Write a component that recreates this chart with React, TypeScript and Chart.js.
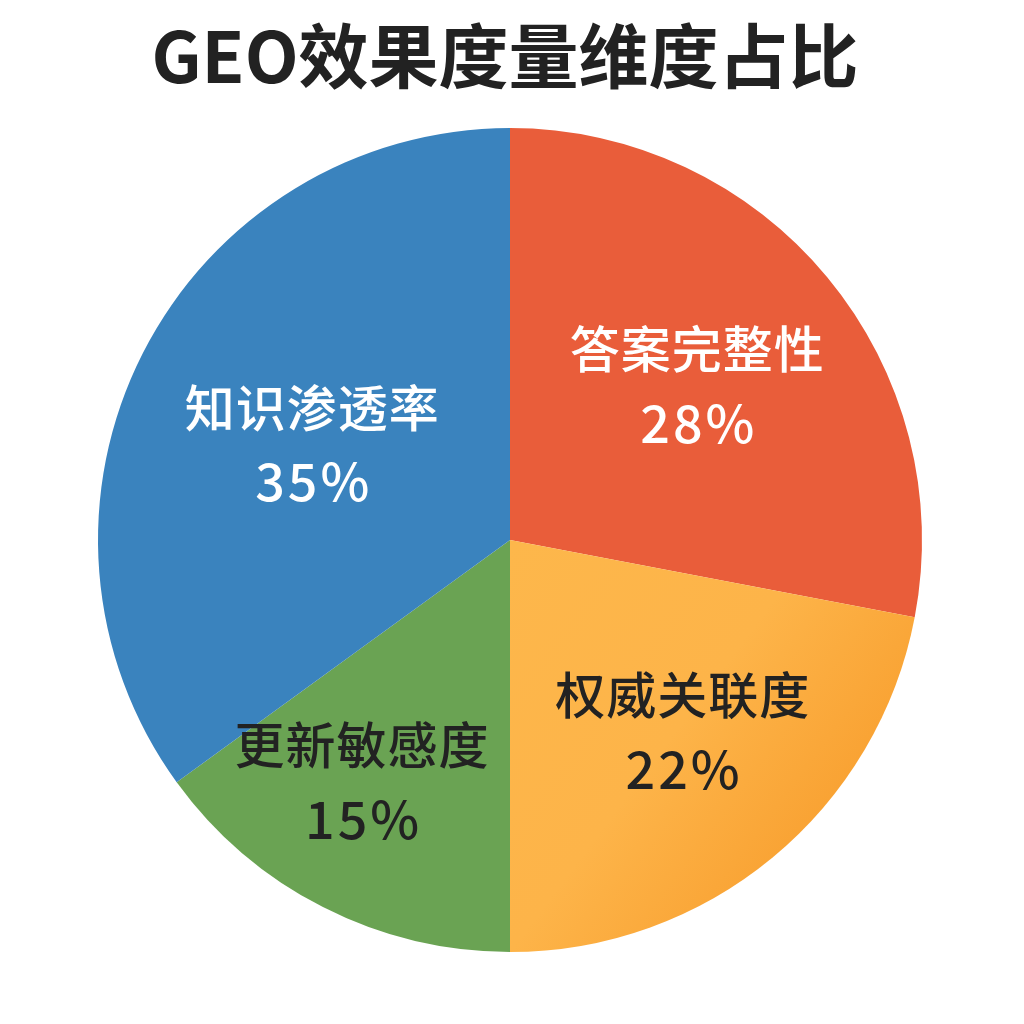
import React, { useEffect, useRef } from "react";
import { Chart, registerables } from "chart.js";

Chart.register(...registerables);

const TITLE = "GEO效果度量维度占比";
const categories = ["答案完整性", "权威关联度", "更新敏感度", "知识渗透率"];
const values = [28, 22, 15, 35];
const sliceColors = ["#E95D3A", "#FDB54A", "#6AA353", "#3A83BE"];
const labelColors = ["#FFFFFF", "#222222", "#222222", "#FFFFFF"];
const labelRadius = [0.59, 0.625, 0.687, 0.534];
const labelAngleShift = [0, -2.5, 4.5, -1];

const FONT = '"Noto Sans CJK SC", "Noto Sans", sans-serif';

const labelPlugin = {
  id: "sliceLabels",
  afterDatasetsDraw(chart: any) {
    const ctx = chart.ctx;
    const meta = chart.getDatasetMeta(0);
    const total = values.reduce((a, b) => a + b, 0);
    meta.data.forEach((arc: any, i: number) => {
      const p = arc.getProps(["x", "y", "startAngle", "endAngle", "outerRadius"], true);
      const mid = (p.startAngle + p.endAngle) / 2 + (labelAngleShift[i] * Math.PI) / 180;
      const r = p.outerRadius * labelRadius[i];
      const cx = p.x + Math.cos(mid) * r;
      const cy = p.y + Math.sin(mid) * r;
      ctx.save();
      ctx.fillStyle = labelColors[i];
      ctx.textAlign = "center";
      ctx.textBaseline = "middle";
      ctx.font = `500 50px ${FONT}`;
      (ctx as any).letterSpacing = "1px";
      ctx.fillText(categories[i], cx, cy - 36);
      ctx.font = `500 52px ${FONT}`;
      (ctx as any).letterSpacing = "3px";
      const pct = Math.round((values[i] / total) * 100) + "%";
      ctx.fillText(pct, cx + 1.5, cy + 38);
      ctx.restore();
    });
  },
};

const titlePlugin = {
  id: "bigTitle",
  afterDraw(chart: any) {
    const ctx = chart.ctx;
    ctx.save();
    ctx.fillStyle = "#222222";
    ctx.textAlign = "center";
    ctx.textBaseline = "middle";
    ctx.font = `bold 70px ${FONT}`;
    ctx.fillText(TITLE, 505, 56);
    ctx.restore();
  },
};

export default function App() {
  const ref = useRef<HTMLCanvasElement | null>(null);
  useEffect(() => {
    if (!ref.current) return;
    const chart = new Chart(ref.current, {
      type: "pie",
      data: {
        labels: categories,
        datasets: [
          {
            data: values,
            backgroundColor: (c: any) => {
              const i = c.dataIndex;
              if (i === 1 && c.chart.chartArea) {
                const a = c.chart.chartArea;
                const mx = (a.left + a.right) / 2;
                const my = (a.top + a.bottom) / 2;
                const rr = (a.right - a.left) / 2;
                const g = c.chart.ctx.createLinearGradient(mx, my, mx + rr * 0.8, my + rr * 0.6);
                g.addColorStop(0, "#FDB74B");
                g.addColorStop(0.6, "#FDB449");
                g.addColorStop(1, "#F9A334");
                return g;
              }
              return sliceColors[i];
            },
            borderWidth: 0,
          },
        ],
      },
      options: {
        animation: false,
        responsive: true,
        maintainAspectRatio: false,
        layout: { padding: { top: 128, bottom: 72, left: 98, right: 102 } },
        plugins: {
          legend: { display: false },
          tooltip: { enabled: false },
          title: { display: false },
        },
      },
      plugins: [labelPlugin, titlePlugin],
    });
    return () => chart.destroy();
  }, []);
  return (
    <div style={{ position: "fixed", left: 0, top: 0, width: 1024, height: 1024, background: "#FFFFFF" }}>
      <canvas ref={ref} />
    </div>
  );
}
